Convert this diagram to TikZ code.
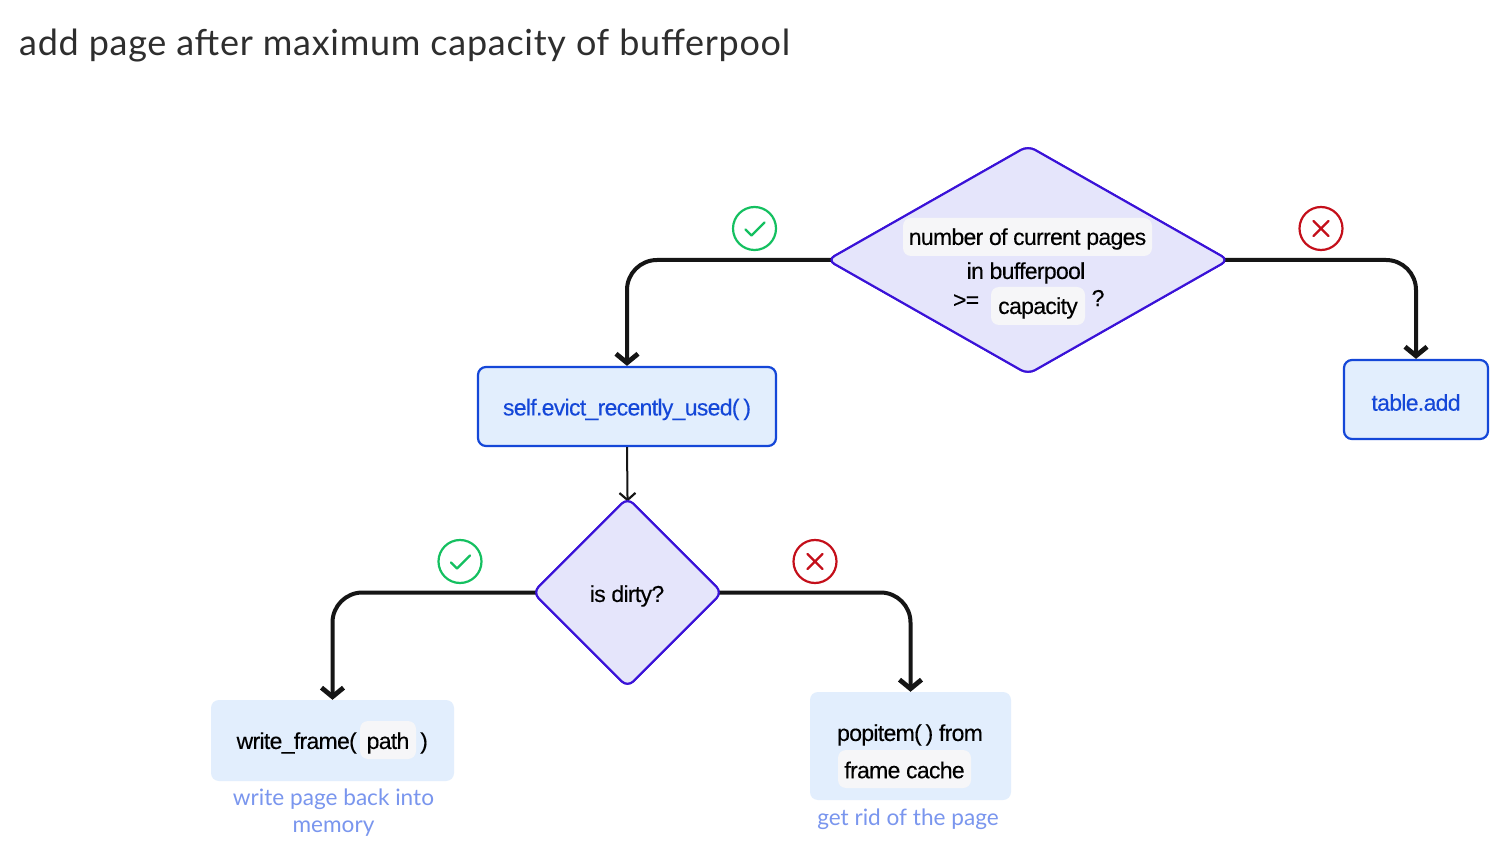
\documentclass[tikz,border=0pt]{standalone}
\usepackage{fontspec}
\setmainfont{Liberation Sans}[LetterSpace=-3,FakeBold=0.25]
\newfontfamily\roundfont{Lato}
\newfontfamily\titlefont{Lato}[LetterSpace=2.0]
\usetikzlibrary{shapes.geometric,arrows.meta}
\definecolor{dfill}{HTML}{E5E5FB}
\definecolor{dline}{HTML}{3A12D8}
\definecolor{bfill}{HTML}{E2EEFD}
\definecolor{bline}{HTML}{1447D8}
\definecolor{chipc}{HTML}{F6F6F8}
\definecolor{inkc}{HTML}{151515}
\definecolor{subc}{HTML}{7A96EE}
\definecolor{okc}{HTML}{14C060}
\definecolor{noc}{HTML}{C40F1A}
\tikzset{
  x=1pt,y=-1pt,
  txt/.style={inner sep=0pt,font=\fontsize{23}{27}\selectfont,text=black,anchor=center},
  sublabel/.style={inner sep=0pt,font=\roundfont\fontsize{22.6}{27}\selectfont,text=subc,align=center},
  dec/.style={diamond,draw=dline,fill=dfill,line width=2.1pt,inner sep=0pt,rounded corners=8pt},
  boxa/.style={draw=bline,fill=bfill,line width=2.2pt,rounded corners=8pt,inner sep=0pt,anchor=center},
  boxb/.style={fill=bfill,rounded corners=8pt,inner sep=0pt,anchor=center},
  chip/.style={fill=chipc,rounded corners=8pt,inner sep=0pt,anchor=center},
  flow/.style={draw=inkc,line width=4pt,rounded corners=30pt,shorten <=-7pt,-{Straight Barb[length=9pt,width=22pt,line width=4.8pt]}},
  thin flow/.style={draw=inkc,line width=2pt,shorten >=-5pt,-{Straight Barb[length=7pt,width=16pt,line width=2.2pt]}},
  badge/.style={circle,draw=#1,line width=2.2pt,minimum size=43pt,inner sep=0pt},
}
\begin{document}
\begin{tikzpicture}
\useasboundingbox (0,0) rectangle (1500,866);
\fill[white] (0,0) rectangle (1500,866);
\node[anchor=west,inner sep=0pt,text=black!82,font=\titlefont\fontsize{36}{40}\selectfont] (title) at (19,46) {add page after maximum capacity of bufferpool};

\node[dec,aspect=1.75,minimum width=402pt,minimum height=229pt] (d1) at (1028,260) {};
\node[dec,minimum width=190pt,minimum height=190pt] (d2) at (627.5,592.5) {};
\node[boxa,minimum width=298pt,minimum height=79pt] (b1) at (627,406.5) {};
\node[boxa,minimum width=144pt,minimum height=79pt] (b2) at (1416,399.5) {};
\node[boxb,minimum width=243pt,minimum height=81pt] (b3) at (332.5,740.5) {};
\node[boxb,minimum width=201pt,minimum height=108pt] (b4) at (910.5,746) {};

\draw[flow] (d1.west) -| (b1.north);
\draw[flow] (d1.east) -| (b2.north);
\draw[flow] (d2.west) -| (b3.north);
\draw[flow] (d2.east) -| (b4.north);
\draw[thin flow] (b1.south) -- (d2.north);

% redraw shapes over the line ends
\node[dec,aspect=1.75,minimum width=402pt,minimum height=229pt] at (1028,260) {};
\node[dec,minimum width=190pt,minimum height=190pt] at (627.5,592.5) {};

% chips
\node[chip,minimum width=249pt,minimum height=38pt] (c1) at (1027.5,237) {};
\node[chip,minimum width=94pt,minimum height=38pt] (c2) at (1038,306) {};
\node[chip,minimum width=56pt,minimum height=38pt] (c3) at (388,740) {};
\node[chip,minimum width=133pt,minimum height=38pt] (c4) at (904.5,769) {};

% texts
\node[txt,yshift=-2pt] (t1) at (c1) {number of current pages};
\node[txt] (t2) at (1026,273) {in bufferpool};
\node[txt] (t3) at (966,301) {>=};
\node[txt,yshift=-2pt] (t4) at (c2) {capacity};
\node[txt] (t5) at (1098,298) {?};
\node[txt,text=bline,yshift=-3pt] (t6) at (b1) {self.evict\_recently\_used(\,)};
\node[txt,text=bline,yshift=-3pt] (t7) at (b2) {table.add};
\node[txt] (t8) at (627,596) {is dirty?};
\node[txt,anchor=east] (t9) at (357,743) {write\_frame(};
\node[txt,yshift=-3pt] (t10) at (c3) {path};
\node[txt] (t11) at (424,743) {)};
\node[txt] (t12) at (910,735) {popitem(\,) from};
\node[txt,yshift=-1pt] (t13) at (c4) {frame cache};
\node[sublabel] (s1) at (333.5,813) {write page back into\\memory};
\node[sublabel] (s2) at (908,819) {get rid of the page};

% badges
\node[badge=okc] (k1) at (754.5,228.5) {};
\draw[okc,line width=2.2pt,line cap=round,line join=round] ([shift={(-9,1)}]k1.center) -- ([shift={(-3,7)}]k1.center) -- ([shift={(10,-6)}]k1.center);
\node[badge=okc] (k2) at (460,561.5) {};
\draw[okc,line width=2.2pt,line cap=round,line join=round] ([shift={(-9,1)}]k2.center) -- ([shift={(-3,7)}]k2.center) -- ([shift={(10,-6)}]k2.center);
\node[badge=noc] (n1) at (1321,228.5) {};
\draw[noc,line width=2.2pt,line cap=round] ([shift={(-7.5,-7.5)}]n1.center) -- ([shift={(7.5,7.5)}]n1.center) ([shift={(7.5,-7.5)}]n1.center) -- ([shift={(-7.5,7.5)}]n1.center);
\node[badge=noc] (n2) at (815,561.5) {};
\draw[noc,line width=2.2pt,line cap=round] ([shift={(-7.5,-7.5)}]n2.center) -- ([shift={(7.5,7.5)}]n2.center) ([shift={(7.5,-7.5)}]n2.center) -- ([shift={(-7.5,7.5)}]n2.center);
\end{tikzpicture}
\end{document}
